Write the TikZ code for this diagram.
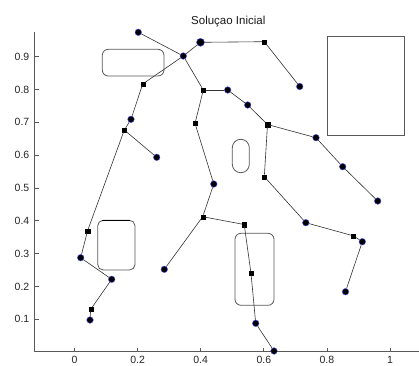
\documentclass[tikz,border=0pt]{standalone}
\usepackage{fontspec}
\setmainfont{Liberation Sans}
\begin{document}
\begin{tikzpicture}[x=1pt,y=-1pt,
  dot/.style={circle,fill=black,draw=blue!70,line width=0.4pt,minimum size=6.6pt,inner sep=0pt},
  bigdot/.style={dot,minimum size=8pt},
  sq/.style={rectangle,fill=black,draw=black,line width=0.2pt,minimum size=4.2pt,inner sep=0pt},
  link/.style={draw=black!80,line width=0.6pt},
  obst/.style={draw=black!65,line width=0.8pt},
  axisline/.style={draw=black!65,line width=0.8pt},
  ticklab/.style={font=\fontsize{10.5}{12}\selectfont,inner sep=0pt,text=black!85},
  titlelab/.style={font=\fontsize{11.5}{13}\selectfont,inner sep=0pt,text=black!90}]
\useasboundingbox (0,0) rectangle (419,365);
\fill[white] (0,0) rectangle (419,365);

% title
\node[titlelab,anchor=base] (title) at (228.3,24.3) {Soluçao Inicial};

% axes
\coordinate (ytop) at (34.3,32.3);
\coordinate (orig) at (34.3,351.7);
\coordinate (xend) at (419,351.7);
\draw[axisline] (ytop) -- (orig) -- (xend);
\foreach \v in {1,...,9} {
  \pgfmathsetmacro{\yy}{352.1-32.825*\v}
  \draw[axisline] (34.3,\yy) -- (39.3,\yy);
  \node[ticklab,anchor=east] (yl\v) at (29.5,\yy) {0.\v};
}
\foreach \v/\t in {0/0,2/0.2,4/0.4,6/0.6,8/0.8,10/1} {
  \pgfmathsetmacro{\xx}{74.5+31.55*\v}
  \draw[axisline] (\xx,351.7) -- (\xx,347.7);
  \node[ticklab,anchor=base] (xl\v) at (\xx,363.3) {\t};
}

% obstacles
\draw[obst,rounded corners=6pt] (102.3,49.3) rectangle (164,76);
\draw[obst] (327.7,36) rectangle (404.3,135);
\draw[obst,rounded corners=8.4pt] (232.3,139.3) rectangle (249.3,172.7);
\draw[obst,rounded corners=5.5pt] (97.7,220.3) rectangle (135,270);
\draw[line width=1.2pt,black] (101.7,220.4) -- (130,220.4);
\draw[obst,rounded corners=6pt] (235,233.3) rectangle (274,305.3);

% markers
\node[dot] (dA) at (138.3,32.3) {};
\node[dot] (dB) at (183.3,56) {};
\node[bigdot] (dC) at (200.5,42.3) {};
\node[sq] (sD) at (264.3,41.7) {};
\node[dot] (dE) at (299.7,86.5) {};
\node[sq] (sF) at (142.7,84) {};
\node[dot] (dG) at (131,119.3) {};
\node[sq] (sH) at (124.3,130) {};
\node[dot] (dI) at (156.7,157.3) {};
\node[sq] (sJ) at (87.5,231) {};
\node[dot] (dK) at (80.7,257.7) {};
\node[dot] (dL) at (111.7,279.3) {};
\node[sq] (sM) at (90.7,309.3) {};
\node[dot] (dN) at (90,320) {};
\node[sq] (sO) at (203.3,90) {};
\node[dot] (dP) at (227.7,90) {};
\node[dot] (dQ) at (247.7,105) {};
\node[sq] (sR) at (267.5,124.5) {};
\node[dot] (dS) at (316,137.7) {};
\node[dot] (dT) at (342.7,166.7) {};
\node[dot] (dU) at (377.7,201) {};
\node[sq] (sV) at (264.3,176.7) {};
\node[dot] (dW) at (305.8,222.7) {};
\node[sq] (sX) at (353.3,235.8) {};
\node[dot] (dY) at (362.3,241.7) {};
\node[dot] (dZ) at (345.5,291.7) {};
\node[sq] (s1) at (195,123.3) {};
\node[dot] (d2) at (213.8,184) {};
\node[sq] (s3) at (202.7,216.7) {};
\node[dot] (d4) at (164.3,269.3) {};
\node[sq] (s5) at (244.2,224.5) {};
\node[sq] (s6) at (251,273.3) {};
\node[dot] (d7) at (255.7,323.3) {};
\node[dot] (d8) at (274,351) {};

% links
\draw[link] (dA) -- (dB);
\draw[link] (dB) -- (dC);
\draw[link] (dC) -- (sD);
\draw[link] (sD) -- (dE);
\draw[link] (dB) -- (sF);
\draw[link] (sF) -- (dG);
\draw[link] (dG) -- (sH);
\draw[link] (sH) -- (dI);
\draw[link] (sH) -- (sJ);
\draw[link] (sJ) -- (dK);
\draw[link] (dK) -- (dL);
\draw[link] (dL) -- (sM);
\draw[link] (sM) -- (dN);
\draw[link] (dB) -- (sO);
\draw[link] (sO) -- (dP);
\draw[link] (dP) -- (dQ);
\draw[link] (dQ) -- (sR);
\draw[link] (sR) -- (dS);
\draw[link] (dS) -- (dT);
\draw[link] (dT) -- (dU);
\draw[link] (sR) -- (sV);
\draw[link] (sV) -- (dW);
\draw[link] (dW) -- (sX);
\draw[link] (sX) -- (dY);
\draw[link] (dY) -- (dZ);
\draw[link] (sO) -- (s1);
\draw[link] (s1) -- (d2);
\draw[link] (d2) -- (s3);
\draw[link] (s3) -- (d4);
\draw[link] (s3) -- (s5);
\draw[link] (s5) -- (s6);
\draw[link] (s6) -- (d7);
\draw[link] (d7) -- (d8);
\end{tikzpicture}
\end{document}
